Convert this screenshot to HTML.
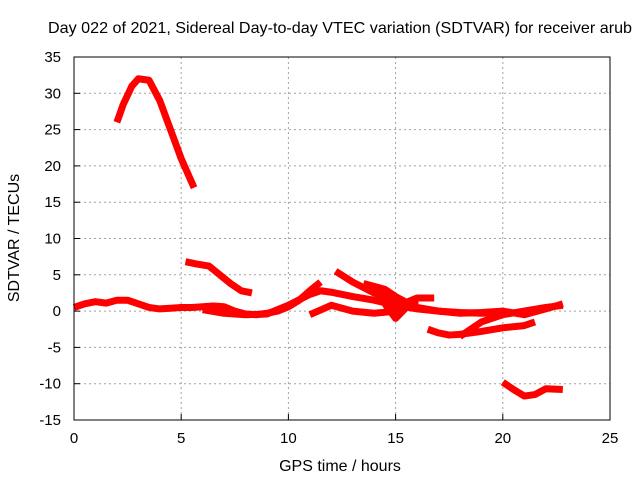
<!DOCTYPE html>
<html><head><meta charset="utf-8"><style>
body{margin:0;background:#fff}
svg text{font-family:"Liberation Sans",sans-serif;fill:#000}
</style></head><body>
<svg id="chart" width="640" height="480" viewBox="0 0 640 480" xmlns="http://www.w3.org/2000/svg">
<text x="340" y="33" font-size="16" text-anchor="middle" textLength="584" lengthAdjust="spacingAndGlyphs">Day 022 of 2021, Sidereal Day-to-day VTEC variation (SDTVAR) for receiver arub</text>
<g id="grid"></g>
<g id="ticks"></g>
<g id="series"></g>
<rect x="74" y="57" width="536" height="363" fill="none" stroke="#000" stroke-width="1"/>
<text x="340" y="471" font-size="16" text-anchor="middle">GPS time / hours</text>
<text x="0" y="0" font-size="16" text-anchor="middle" transform="translate(19,238) rotate(-90)">SDTVAR / TECUs</text>
</svg>
<script>
const xTicks=[0,5,10,15,20,25];
const yTicks=[-15,-10,-5,0,5,10,15,20,25,30,35];
const t1x=[2.0,2.3,2.7,3.0,3.5,4.0,4.5,5.0,5.6];
const t1y=[26,28.5,31,32,31.8,29,25,21,17];
const t2x=[5.2,5.7,6.3,6.8,7.3,7.8,8.3];
const t2y=[6.8,6.5,6.2,5,3.8,2.8,2.5];
const t3x=[0,0.5,1,1.5,2,2.5,3,3.5,4,4.5,5,5.5,6,6.5,7,7.5,8,8.5,9,9.5,10,10.5,11,11.5];
const t3y=[0.5,1,1.3,1.1,1.5,1.5,1,0.5,0.3,0.4,0.5,0.5,0.6,0.7,0.6,0,-0.4,-0.5,-0.3,0,0.6,1.5,2.8,4];
const t4x=[6,7,8,9,10,11,11.5,12,13,14,15,16,17,18,19,20,21,22,22.8];
const t4y=[0.2,-0.3,-0.5,-0.4,0.8,2.3,2.8,2.6,2,1.5,0.8,0.3,0,-0.3,-0.2,0,-0.5,0.3,1];
const t5x=[12.2,13,14,15,16,17,18,19,20];
const t5y=[5.5,4,2.5,1.5,0.5,0,-0.2,-0.3,-0.3];
const t6x=[11,12,13,14,15,15.5,16];
const t6y=[-0.5,0.8,0,-0.3,0,0.5,0.5];
const t7x=[13.5,14.5,15,15.5,16,16.8];
const t7y=[3.8,3,2,1.2,1.8,1.8];
const t8x=[14.5,15,15.5,16];
const t8y=[1,-1,0.5,1.5];
const t9x=[16.5,17,17.5,18,18.5,19,20,21,21.5];
const t9y=[-2.5,-3,-3.3,-3.2,-3,-2.8,-2.3,-2,-1.5];
const t10x=[18,18.5,19,20,21,22,22.8];
const t10y=[-3.5,-2.5,-1.5,-0.5,0,0.5,0.8];
const t11x=[20,20.5,21,21.5,22,22.8];
const t11y=[-9.8,-10.8,-11.7,-11.5,-10.7,-10.8];
const tracksX=[t1x,t2x,t3x,t4x,t5x,t6x,t7x,t8x,t9x,t10x,t11x];
const tracksY=[t1y,t2y,t3y,t4y,t5y,t6y,t7y,t8y,t9y,t10y,t11y];
const X=v=>74+v*536/25;
const Y=v=>420-(v+15)*363/50;
const NS="http://www.w3.org/2000/svg";
const grid=document.getElementById('grid'),ticks=document.getElementById('ticks'),ser=document.getElementById('series');
function mk(tag,attrs,parent){const e=document.createElementNS(NS,tag);for(const k in attrs)e.setAttribute(k,attrs[k]);parent.appendChild(e);return e;}
xTicks.forEach(v=>{
  if(v>0&&v<25){const g=mk('line',{x1:X(v),x2:X(v),y1:57,y2:420,stroke:'#a0a0a0','stroke-dasharray':'2,3'},grid);
  
  }
  const tk=mk('line',{x1:X(v),x2:X(v),y1:420,y2:414,stroke:'#000'},ticks);
  
  
  const t=mk('text',{x:X(v),y:443,'font-size':15,'text-anchor':'middle'},ticks);t.textContent=v;
  
  
});
yTicks.forEach(v=>{
  if(v>-15&&v<35){const g=mk('line',{x1:74,x2:610,y1:Y(v),y2:Y(v),stroke:'#a0a0a0','stroke-dasharray':'2,3'},grid);
  
  }
  const tk=mk('line',{x1:74,x2:80,y1:Y(v),y2:Y(v),stroke:'#000'},ticks);
  
  
  const t=mk('text',{x:61,y:Y(v)+5,'font-size':15,'text-anchor':'end'},ticks);t.textContent=v;
  
  
});
tracksX.forEach((xs,i)=>{
  const ys=tracksY[i];
  const pts=xs.map((x,j)=>X(x)+','+Y(ys[j])).join(' ');
  const p=mk('polyline',{points:pts,fill:'none',stroke:'#ff0000','stroke-width':7,'stroke-linejoin':'round','stroke-linecap':'butt'},ser);
  
  
});
</script>
</body></html>
